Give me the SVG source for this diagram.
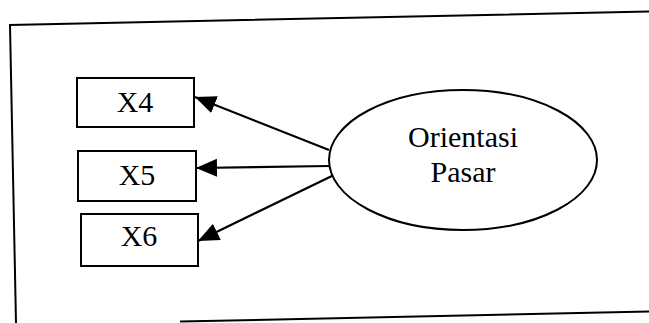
<svg xmlns="http://www.w3.org/2000/svg" width="649" height="323" viewBox="0 0 649 323">
<defs>
<style>
.frame{fill:none;stroke:#000;stroke-width:2}
.box{fill:#fff;stroke:#000;stroke-width:2}
.ell{fill:#fff;stroke:#000;stroke-width:2}
.lbl{font-family:"Liberation Serif","Times New Roman",serif;font-size:30px;fill:#000;text-anchor:middle}
.edge{fill:none;stroke:#000;stroke-width:2.2}
</style>
<marker id="ah" markerUnits="userSpaceOnUse" markerWidth="22" markerHeight="20" refX="21" refY="9" orient="auto">
<path d="M0,0 L21,9 L0,18 Z" fill="#000"/>
</marker>
</defs>
<g id="frame">
<polyline class="frame" points="649,11.5 10,25 16,323"/>
<line class="frame" x1="180" y1="321.5" x2="649" y2="311.5"/>
</g>
<g id="connectors">
<line class="edge" x1="329" y1="150" x2="195" y2="97" marker-end="url(#ah)"/>
<line class="edge" x1="329" y1="166" x2="196" y2="168" marker-end="url(#ah)"/>
<line class="edge" x1="336" y1="174" x2="198" y2="241" marker-end="url(#ah)"/>
</g>
<g id="orientasi">
<ellipse class="ell" cx="463" cy="160" rx="134" ry="70"/>
<text class="lbl" x="463" y="147" font-size="29">Orientasi</text>
<text class="lbl" x="463" y="182" font-size="29">Pasar</text>
</g>
<g id="x4">
<rect class="box" x="77" y="78" width="117" height="49"/>
<text class="lbl" x="135" y="112">X4</text>
</g>
<g id="x5">
<rect class="box" x="78" y="151" width="118" height="50"/>
<text class="lbl" x="137" y="185">X5</text>
</g>
<g id="x6">
<rect class="box" x="81" y="214" width="117" height="52"/>
<text class="lbl" x="139" y="246">X6</text>
</g>
</svg>
